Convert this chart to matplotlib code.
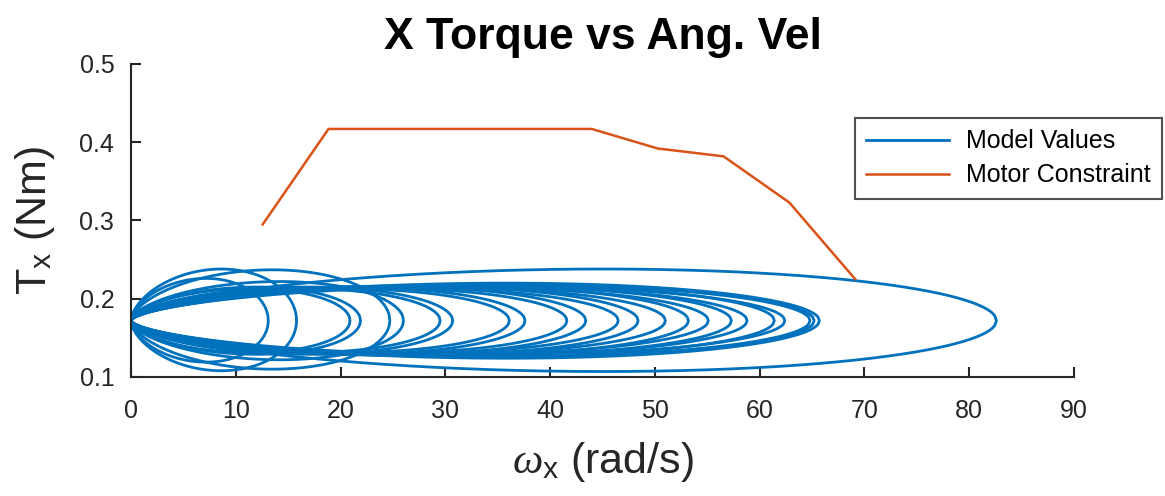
import numpy as np
import matplotlib
matplotlib.use("Agg")
import matplotlib.pyplot as plt

# Motor constraint (rad/s, Nm)
motor_w = [12.57, 18.85, 25.13, 31.42, 37.70, 43.98, 50.27, 56.55, 62.83, 69.12]
motor_T = [0.295, 0.417, 0.417, 0.417, 0.417, 0.417, 0.392, 0.382, 0.323, 0.225]

# Model loops: every loop leaves and returns to (0, T0)
loop_T0 = 0.172
loop_wmax = [13.1, 15.8, 20.9, 21.9, 24.7, 26.0, 29.5, 30.7, 36.1, 37.6,
             41.6, 43.4, 46.5, 48.4, 51.0, 53.2, 55.1, 57.3, 58.8, 61.4,
             62.4, 64.8, 65.2, 65.7, 82.6]
loop_Ttop = [0.226, 0.238, 0.213, 0.215, 0.237, 0.222, 0.213, 0.215, 0.213, 0.215,
             0.214, 0.216, 0.214, 0.216, 0.215, 0.217, 0.215, 0.217, 0.216, 0.218,
             0.216, 0.218, 0.219, 0.220, 0.238]
loop_Tbot = [0.119, 0.108, 0.131, 0.129, 0.110, 0.122, 0.131, 0.129, 0.131, 0.129,
             0.130, 0.128, 0.130, 0.128, 0.129, 0.127, 0.129, 0.127, 0.128, 0.126,
             0.128, 0.126, 0.125, 0.124, 0.107]

blue = "#0072BD"
orange = "#D95319"
dark = "#262626"

plt.rcParams['font.family'] = ['Liberation Sans', 'DejaVu Sans']
plt.rcParams['mathtext.fontset'] = 'custom'
plt.rcParams['mathtext.rm'] = 'Liberation Sans'
plt.rcParams['mathtext.it'] = 'Liberation Serif:italic'

fig = plt.figure(figsize=(11.65, 4.96), dpi=100)
ax = fig.add_axes([131 / 1165, 119 / 496, 943 / 1165, 313 / 496])


def loop_shape(u, p=0.6, q=0.5):
    g = u ** p * (1 - u) ** q
    um = p / (p + q)
    return g / (um ** p * (1 - um) ** q)


u = np.linspace(0, 1, 500)
g = loop_shape(u)
for i, (a, top, bot) in enumerate(zip(loop_wmax, loop_Ttop, loop_Tbot)):
    xs = np.concatenate([a * u, a * u[::-1]])
    ys = np.concatenate([loop_T0 + (top - loop_T0) * g,
                         loop_T0 - (loop_T0 - bot) * g[::-1]])
    ax.plot(xs, ys, color=blue, lw=2.0, label="Model Values" if i == 0 else None)

ax.plot(motor_w, motor_T, color=orange, lw=1.8, label="Motor Constraint")

ax.set_xlim(0, 90)
ax.set_ylim(0.1, 0.5)
ax.set_xticks(np.arange(0, 91, 10))
ax.set_yticks([0.1, 0.2, 0.3, 0.4, 0.5])
ax.set_yticklabels(["0.1", "0.2", "0.3", "0.4", "0.5"])

for s in ["top", "right"]:
    ax.spines[s].set_visible(False)
for s in ["left", "bottom"]:
    ax.spines[s].set_color(dark)
    ax.spines[s].set_linewidth(1.5)
ax.tick_params(direction="in", length=7, width=1.5, colors=dark, labelsize=18)
ax.tick_params(axis="x", pad=16)
ax.tick_params(axis="y", pad=12)

ax.set_title("X Torque vs Ang. Vel", fontsize=32, fontweight="bold", pad=11)
ax.set_xlabel(r"$\omega_{\mathrm{x}}$ (rad/s)", fontsize=31, color=dark, labelpad=12)
ax.set_ylabel(r"T$_{\mathrm{x}}$ (Nm)", fontsize=31, color=dark, labelpad=16)

leg = fig.legend(loc="upper left", bbox_to_anchor=(855 / 1165, 1 - 118 / 496),
                 fontsize=18, frameon=True, fancybox=False, handlelength=3.3,
                 borderpad=0.45, labelspacing=0.4, handletextpad=0.7,
                 borderaxespad=0)
leg.get_frame().set_edgecolor(dark)
leg.get_frame().set_linewidth(1.5)

fig.savefig("out.png", dpi=100)
